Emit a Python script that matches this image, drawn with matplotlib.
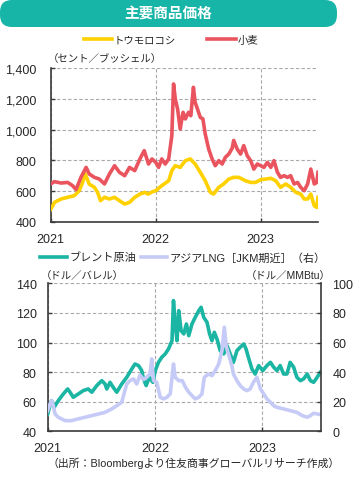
import numpy as np
import pandas as pd
import matplotlib
matplotlib.use('Agg')
import matplotlib.pyplot as plt
from matplotlib.patches import FancyBboxPatch
from matplotlib.ticker import FuncFormatter

plt.rcParams['font.family'] = ['Liberation Sans', 'Noto Sans CJK JP']

# ---- data ----
corn_dates = ['2021-01-01', '2021-01-14', '2021-02-06', '2021-03-01', '2021-03-24', '2021-04-10',
              '2021-04-22', '2021-04-30', '2021-05-15', '2021-06-02', '2021-06-13', '2021-06-23',
              '2021-07-07', '2021-07-24', '2021-08-11', '2021-08-28', '2021-09-15', '2021-10-02',
              '2021-10-20', '2021-11-07', '2021-11-24', '2021-12-06', '2021-12-20', '2022-01-01',
              '2022-01-22', '2022-02-15', '2022-02-26', '2022-03-10', '2022-03-27', '2022-04-14',
              '2022-05-01', '2022-05-18', '2022-06-05', '2022-06-22', '2022-07-10', '2022-07-21',
              '2022-08-08', '2022-08-25', '2022-09-12', '2022-09-29', '2022-10-17', '2022-11-09',
              '2022-11-27', '2022-12-14', '2023-01-01', '2023-01-18', '2023-02-05', '2023-02-22',
              '2023-03-11', '2023-03-29', '2023-04-15', '2023-05-03', '2023-05-20', '2023-06-01',
              '2023-06-13', '2023-06-24', '2023-07-06', '2023-07-15', '2023-07-19']
corn = [480, 526, 548, 559, 570, 602,
        656, 715, 645, 624, 591, 537,
        559, 548, 559, 537, 515, 526,
        559, 580, 591, 580, 595, 602,
        635, 667, 733, 765, 754, 798,
        809, 776, 722, 667, 591, 580,
        624, 646, 678, 689, 689, 667,
        656, 656, 674, 678, 683, 667,
        624, 646, 624, 591, 580, 548,
        548, 580, 504, 493, 559]

wheat_dates = ['2021-01-01', '2021-01-14', '2021-02-06', '2021-03-01', '2021-03-18', '2021-03-30',
               '2021-04-16', '2021-05-04', '2021-05-15', '2021-06-02', '2021-06-19', '2021-07-07',
               '2021-07-24', '2021-08-11', '2021-08-28', '2021-09-15', '2021-10-02', '2021-10-20',
               '2021-11-07', '2021-11-22', '2021-12-07', '2021-12-19', '2022-01-01', '2022-01-11',
               '2022-01-22', '2022-02-03', '2022-02-15', '2022-02-26', '2022-03-04', '2022-03-10',
               '2022-03-18', '2022-03-27', '2022-04-06', '2022-04-14', '2022-04-25', '2022-05-03',
               '2022-05-12', '2022-05-18', '2022-05-26', '2022-06-05', '2022-06-14', '2022-06-22',
               '2022-07-04', '2022-07-16', '2022-07-27', '2022-08-08', '2022-08-20', '2022-08-31',
               '2022-09-12', '2022-09-24', '2022-09-29', '2022-10-11', '2022-10-23', '2022-11-03',
               '2022-11-15', '2022-11-27', '2022-12-08', '2022-12-20', '2023-01-01', '2023-01-12',
               '2023-01-24', '2023-02-05', '2023-02-16', '2023-02-28', '2023-03-11', '2023-03-23',
               '2023-04-04', '2023-04-15', '2023-04-27', '2023-05-09', '2023-05-20', '2023-06-01',
               '2023-06-13', '2023-06-24', '2023-07-06', '2023-07-15', '2023-07-19']
wheat = [646, 661, 652, 656, 635, 609,
         689, 754, 711, 689, 678, 646,
         711, 765, 722, 700, 754, 733,
         809, 863, 776, 809, 787, 754,
         809, 776, 809, 961, 1298, 1200,
         1135, 1004, 1113, 1070, 1113, 1091,
         1276, 1178, 1135, 1080, 1070, 972,
         874, 809, 765, 798, 776, 820,
         841, 880, 930, 874, 841, 896,
         830, 798, 743, 776, 765, 754,
         787, 754, 798, 722, 689, 700,
         689, 700, 646, 656, 624, 602,
         646, 743, 646, 656, 722]

brent_dates = ['2021-01-01', '2021-01-09', '2021-01-14', '2021-01-23', '2021-02-06', '2021-02-23',
               '2021-03-10', '2021-03-18', '2021-03-29', '2021-04-15', '2021-05-02', '2021-05-19',
               '2021-05-31', '2021-06-17', '2021-07-04', '2021-07-15', '2021-07-21', '2021-08-01',
               '2021-08-12', '2021-08-24', '2021-09-10', '2021-09-27', '2021-10-14', '2021-10-25',
               '2021-11-06', '2021-11-17', '2021-11-23', '2021-12-02', '2021-12-13', '2021-12-25',
               '2022-01-02', '2022-01-13', '2022-01-24', '2022-02-05', '2022-02-16', '2022-02-28',
               '2022-03-05', '2022-03-11', '2022-03-17', '2022-03-23', '2022-03-31', '2022-04-09',
               '2022-04-18', '2022-04-26', '2022-05-07', '2022-05-18', '2022-05-30', '2022-06-07',
               '2022-06-16', '2022-06-27', '2022-07-06', '2022-07-14', '2022-07-22', '2022-07-31',
               '2022-08-11', '2022-08-23', '2022-09-03', '2022-09-14', '2022-09-25', '2022-10-07',
               '2022-10-18', '2022-10-30', '2022-11-07', '2022-11-15', '2022-11-27', '2022-12-08',
               '2022-12-20', '2023-01-03', '2023-01-17', '2023-01-29', '2023-02-09', '2023-02-20',
               '2023-03-03', '2023-03-15', '2023-03-26', '2023-04-06', '2023-04-18', '2023-04-29',
               '2023-05-11', '2023-05-22', '2023-06-03', '2023-06-14', '2023-06-25', '2023-07-07',
               '2023-07-18']
brent = [51.7, 57.3, 60.7, 56.2, 60.7, 65.2,
         68.6, 66.4, 63.0, 65.2, 67.5, 68.6,
         66.4, 70.9, 74.2, 72.0, 68.6, 73.1,
         69.7, 66.4, 72.0, 76.5, 82.1, 85.5,
         84.4, 81.0, 75.4, 70.9, 76.5, 73.1,
         81.0, 86.6, 90.0, 92.3, 95.6, 101.2,
         128.3, 112.5, 101.2, 121.5, 108.0, 105.8,
         112.5, 104.6, 112.5, 117.0, 121.5, 123.8,
         117.0, 113.7, 105.8, 101.2, 106.9, 102.4,
         94.5, 92.3, 97.9, 92.3, 86.6, 94.5,
         96.8, 99.0, 95.6, 90.0, 82.1, 78.7,
         84.4, 81.0, 84.4, 86.6, 83.3, 81.0,
         84.4, 78.7, 78.7, 86.6, 83.3, 76.5,
         74.2, 75.4, 78.7, 74.2, 73.1, 76.5,
         79.9]

lng_dates = ['2021-01-01', '2021-01-09', '2021-01-14', '2021-01-20', '2021-01-26', '2021-02-06',
             '2021-03-01', '2021-03-23', '2021-04-15', '2021-05-08', '2021-05-31', '2021-06-23',
             '2021-07-15', '2021-08-07', '2021-08-24', '2021-09-10', '2021-09-16', '2021-09-27',
             '2021-10-08', '2021-10-20', '2021-10-31', '2021-11-11', '2021-11-23', '2021-12-04',
             '2021-12-15', '2021-12-21', '2021-12-27', '2022-01-07', '2022-01-19', '2022-01-30',
             '2022-02-11', '2022-02-22', '2022-03-05', '2022-03-11', '2022-03-23', '2022-04-04',
             '2022-04-15', '2022-04-26', '2022-05-07', '2022-05-18', '2022-05-30', '2022-06-10',
             '2022-06-18', '2022-07-02', '2022-07-14', '2022-07-25', '2022-08-06', '2022-08-17',
             '2022-08-25', '2022-09-01', '2022-09-08', '2022-09-20', '2022-09-25', '2022-10-07',
             '2022-10-18', '2022-10-30', '2022-11-10', '2022-11-21', '2022-12-02', '2022-12-14',
             '2022-12-26', '2023-01-06', '2023-01-17', '2023-01-29', '2023-02-09', '2023-02-20',
             '2023-03-15', '2023-04-06', '2023-04-29', '2023-05-17', '2023-06-03', '2023-06-14',
             '2023-06-25', '2023-07-07', '2023-07-18']
lng = [14.0, 18.5, 20.7, 17.3, 11.7, 9.5,
       7.2, 7.2, 8.4, 9.5, 10.6, 11.7,
       12.8, 15.1, 17.3, 19.6, 24.1, 32.0,
       34.2, 35.4, 32.0, 38.0, 35.0, 36.5,
       38.7, 48.9, 34.2, 33.1, 23.0, 21.9,
       23.0, 25.3, 45.5, 36.5, 34.2, 34.2,
       29.7, 26.4, 24.1, 21.9, 23.0, 25.3,
       36.5, 38.7, 37.6, 41.0, 45.5, 54.5,
       70.3, 56.8, 52.3, 44.0, 38.7, 34.2,
       30.9, 28.6, 27.5, 28.6, 33.1, 36.5,
       28.6, 25.3, 21.9, 19.6, 17.3, 16.2,
       15.1, 14.0, 12.8, 10.6, 9.5, 10.6,
       12.2, 11.7, 11.3]

year_ticks = ['2021-01-01', '2022-01-01', '2023-01-01']
year_labels = ['2021', '2022', '2023']
x_range = ['2021-01-01', '2023-07-19']

title = '主要商品価格'
top_labels = ['トウモロコシ', '小麦']
bottom_labels = ['ブレント原油', 'アジアLNG［JKM期近］（右）']
top_unit = '（セント／ブッシェル）'
left_unit = '（ドル／バレル）'
right_unit = '（ドル／MMBtu）'
source = '（出所：Bloombergより住友商事グローバルリサーチ作成）'

# ---- style ----
C_CORN = '#FFD100'
C_WHEAT = '#E9545E'
C_BRENT = '#1BB5A3'
C_LNG = '#C5CBF6'
C_BANNER = '#17B5A7'
C_TEXT = '#262626'
C_SPINE = '#3A3A3A'
GRID = dict(color='#A8A8A8', linestyle=(0, (3, 2)), linewidth=0.8)
LW = 2.6

W, H = 357, 481


def style_axis(ax, pad_y=10):
    for s in ['top', 'right']:
        ax.spines[s].set_visible(False)
    for s in ['left', 'bottom']:
        ax.spines[s].set_color(C_SPINE)
        ax.spines[s].set_linewidth(1.2)
    ax.set_xlim(pd.to_datetime(x_range))
    ax.set_xticks(pd.to_datetime(year_ticks))
    ax.set_xticklabels(year_labels)
    ax.tick_params(axis='both', direction='in', length=3, width=1, color=C_SPINE,
                   labelsize=9, labelcolor=C_TEXT)
    ax.tick_params(axis='x', pad=8)
    ax.tick_params(axis='y', pad=pad_y)
    ax.grid(True, **GRID)
    ax.set_axisbelow(True)


def main():
    fig = plt.figure(figsize=(W / 100, H / 100), dpi=100)

    # title banner
    banner = FancyBboxPatch((0.0, (H - 28) / 100), 3.37, 0.27,
                            boxstyle='round,pad=0,rounding_size=0.12',
                            transform=fig.dpi_scale_trans, fc=C_BANNER, ec='none')
    fig.add_artist(banner)
    fig.text(168 / W, 1 - 15 / H, title, color='white', fontsize=10.5,
             fontweight='bold', ha='center', va='center')

    # top panel: corn / wheat
    ax1 = fig.add_axes([50.7 / W, 1 - 222.7 / H, (318 - 50.7) / W, (222.7 - 69.3) / H])
    l_corn, = ax1.plot(pd.to_datetime(corn_dates), corn, color=C_CORN, lw=LW, zorder=3)
    l_wheat, = ax1.plot(pd.to_datetime(wheat_dates), wheat, color=C_WHEAT, lw=LW, zorder=4)
    ax1.set_ylim(400, 1400)
    ax1.set_yticks(np.arange(400, 1401, 200))
    ax1.yaxis.set_major_formatter(FuncFormatter(lambda v, p: '{:,.0f}'.format(v)))
    style_axis(ax1, pad_y=10)

    fig.legend([l_corn, l_wheat], top_labels, loc='center',
               bbox_to_anchor=(171 / W, 1 - 41 / H), bbox_transform=fig.transFigure,
               ncol=2, frameon=False, fontsize=7.5, handlelength=2.7,
               handletextpad=0.2, columnspacing=3.0, labelcolor=C_TEXT)
    fig.text(48 / W, 1 - 59 / H, top_unit, fontsize=7.5, color=C_TEXT,
             ha='left', va='center')

    # bottom panel: brent / LNG
    ax2 = fig.add_axes([47.7 / W, 1 - 432.3 / H, (320.7 - 47.7) / W, (432.3 - 284.3) / H])
    l_brent, = ax2.plot(pd.to_datetime(brent_dates), brent, color=C_BRENT, lw=LW, zorder=3)
    ax2.set_ylim(40, 140)
    ax2.set_yticks(np.arange(40, 141, 20))
    style_axis(ax2, pad_y=8)

    ax3 = ax2.twinx()
    l_lng, = ax3.plot(pd.to_datetime(lng_dates), lng, color=C_LNG, lw=LW)
    ax3.set_ylim(0, 100)
    ax3.set_yticks(np.arange(0, 101, 20))
    for s in ['top', 'left', 'bottom']:
        ax3.spines[s].set_visible(False)
    ax3.spines['right'].set_color(C_SPINE)
    ax3.spines['right'].set_linewidth(1.2)
    ax3.tick_params(axis='y', direction='in', length=3, width=1, color=C_SPINE,
                    labelsize=9, labelcolor=C_TEXT, pad=8.5)

    fig.legend([l_brent, l_lng], bottom_labels, loc='center',
               bbox_to_anchor=(183 / W, 1 - 258 / H), bbox_transform=fig.transFigure,
               ncol=2, frameon=False, fontsize=8, handlelength=2.4,
               handletextpad=0.2, columnspacing=0.4, labelcolor=C_TEXT)
    fig.text(41 / W, 1 - 276 / H, left_unit, fontsize=7.5, color=C_TEXT,
             ha='left', va='center')
    fig.text(331 / W, 1 - 276 / H, right_unit, fontsize=7.5, color=C_TEXT,
             ha='right', va='center')
    fig.text(340 / W, 1 - 463 / H, source, fontsize=7.8, color=C_TEXT,
             ha='right', va='center')

    fig.savefig('out.png', dpi=100)


if __name__ == '__main__':
    main()
